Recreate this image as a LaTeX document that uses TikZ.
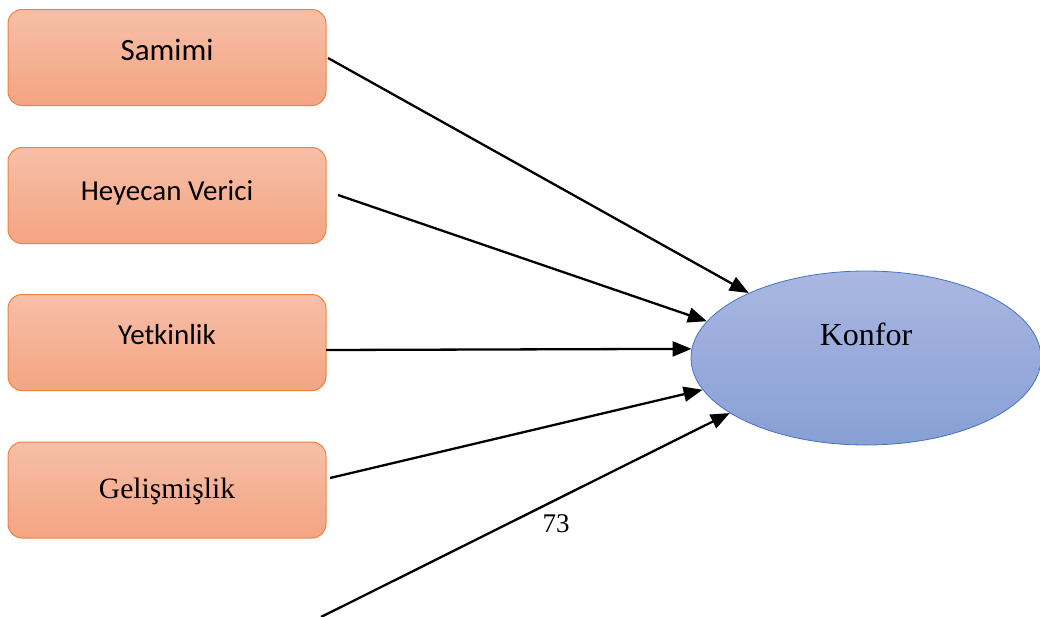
\documentclass[tikz,border=0pt]{standalone}
\usepackage{fontspec}
\setmainfont{Liberation Serif}
\newfontfamily\calib{Carlito}
\usetikzlibrary{arrows.meta,shapes.geometric}
\definecolor{boxtop}{HTML}{F7BFA8}
\definecolor{boxbot}{HTML}{F4A482}
\definecolor{boxline}{HTML}{EE8240}
\definecolor{elltop}{HTML}{AAB7E1}
\definecolor{ellbot}{HTML}{889FD5}
\definecolor{ellline}{HTML}{4472C4}
\tikzset{
  factor/.style={draw=boxline, line width=1pt, rounded corners=14pt,
    top color=boxtop, bottom color=boxbot, minimum width=318pt,
    minimum height=96pt, inner sep=0pt, text height=20pt},
  target/.style={ellipse, draw=ellline, line width=0.8pt, top color=elltop,
    bottom color=ellbot, minimum width=350pt, minimum height=174pt, inner sep=0pt},
  link/.style={line width=2.3pt, -{Triangle[length=19pt,width=15pt]}},
}
\begin{document}
\begin{tikzpicture}[x=1pt,y=-1pt]
\useasboundingbox (0,0) rectangle (1040,616);
\node[factor, text depth=14pt, font=\calib\fontsize{31}{37}\selectfont] (sam) at (167,57.5) {Samimi};
\node[factor, text depth=10pt, font=\calib\fontsize{29}{35}\selectfont] (hey) at (167,195.5) {Heyecan Verici};
\node[factor, text depth=16pt, font=\calib\fontsize{29}{35}\selectfont] (yet) at (167,342.5) {Yetkinlik};
\node[factor, text depth=4pt, font=\fontsize{29.5}{35}\selectfont] (gel) at (167,490) {Gelişmişlik};
\node[target, text height=22pt, text depth=48pt, font=\fontsize{32}{38}\selectfont] (kon) at (866,358) {Konfor};
\coordinate (s1) at (328,58);
\coordinate (s2) at (338,195);
\coordinate (s3) at (326,350);
\coordinate (s4) at (330,478);
\coordinate (s5) at (321,617);
\draw[link] (s1) -- (kon.151);
\draw[link] (s2) -- (kon.167);
\draw[link] (s3) -- (kon.177.4);
\draw[link] (s4) -- (kon.191);
\draw[link] (s5) -- (kon.202);
\node[font=\fontsize{27}{32}\selectfont, inner sep=0pt] (n73) at (556,524) {73};
\end{tikzpicture}
\end{document}
